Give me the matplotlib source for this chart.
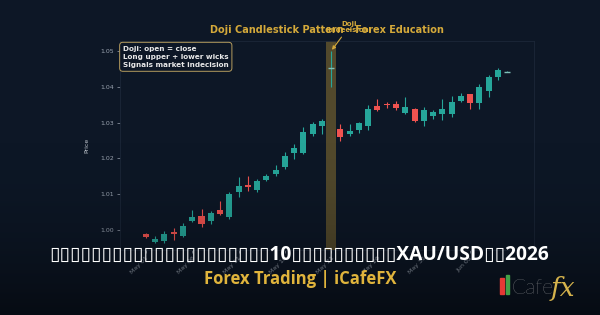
import matplotlib
matplotlib.use("Agg")
import matplotlib.pyplot as plt
from matplotlib.patches import Rectangle
import numpy as np
import pandas as pd

# --- data --------------------------------------------------------------
dates = pd.date_range("2024-05-01", periods=40, freq="D")
opens = [0.9989, 0.9968, 0.9970, 0.9994, 0.9984, 1.0024, 1.0040, 1.0025, 1.0056, 1.0037,
         1.0105, 1.0127, 1.0112, 1.0141, 1.0157, 1.0176, 1.0215, 1.0215, 1.0269, 1.0290,
         1.0452, 1.0283, 1.0267, 1.0278, 1.0290, 1.0346, 1.0351, 1.0351, 1.0328, 1.0339,
         1.0305, 1.0318, 1.0325, 1.0323, 1.0361, 1.0379, 1.0355, 1.0388, 1.0426, 1.0442]
closes = [0.9981, 0.9975, 0.9990, 0.9990, 1.0011, 1.0037, 1.0017, 1.0048, 1.0045, 1.0101,
          1.0124, 1.0121, 1.0136, 1.0152, 1.0168, 1.0208, 1.0230, 1.0274, 1.0297, 1.0305,
          1.0452, 1.0260, 1.0276, 1.0299, 1.0339, 1.0335, 1.0348, 1.0341, 1.0344, 1.0305,
          1.0335, 1.0329, 1.0337, 1.0358, 1.0374, 1.0355, 1.0400, 1.0426, 1.0447, 1.0442]
highs = [0.9993, 0.9984, 0.9998, 1.0006, 1.0020, 1.0056, 1.0059, 1.0054, 1.0082, 1.0105,
         1.0149, 1.0152, 1.0143, 1.0157, 1.0183, 1.0218, 1.0241, 1.0288, 1.0302, 1.0311,
         1.0500, 1.0295, 1.0297, 1.0302, 1.0349, 1.0365, 1.0358, 1.0360, 1.0372, 1.0342,
         1.0344, 1.0336, 1.0365, 1.0374, 1.0384, 1.0381, 1.0409, 1.0433, 1.0453, 1.0443]
lows = [0.9977, 0.9965, 0.9965, 0.9972, 0.9981, 1.0022, 1.0009, 1.0017, 1.0043, 1.0031,
        1.0093, 1.0110, 1.0105, 1.0138, 1.0152, 1.0171, 1.0199, 1.0213, 1.0264, 1.0269,
        1.0400, 1.0250, 1.0264, 1.0271, 1.0278, 1.0333, 1.0342, 1.0335, 1.0325, 1.0302,
        1.0290, 1.0311, 1.0308, 1.0315, 1.0358, 1.0339, 1.0337, 1.0371, 1.0419, 1.0441]
doji_idx = 20

title = "Doji Candlestick Pattern \u2013 Forex Education"
info_text = "Doji: open = close\nLong upper + lower wicks\nSignals market indecision"
banner = ("\u25af" * 21 + "10" + "\u25af" * 10 + "XAU/USD" + "\u25af" * 2 + "2026")
subtitle = "Forex Trading | iCafeFX"

BG = "#0d1726"
UP, DOWN = "#26a69a", "#ef5350"
GOLD = "#d4a93a"

fig = plt.figure(figsize=(6, 3.15), dpi=100, facecolor=BG)
ax = fig.add_axes([0.2, 0.206, 0.69, 0.664], facecolor=BG)

x = np.arange(len(dates))
o, c = np.array(opens), np.array(closes)
colors = [UP if cc >= oo else DOWN for oo, cc in zip(o, c)]

ax.vlines(x, lows, highs, colors=colors, lw=0.8, zorder=2)
flat = np.isclose(o, c)
ax.bar(x[~flat], (c - o)[~flat], bottom=o[~flat], width=0.65,
       color=np.array(colors)[~flat], zorder=3)
ax.hlines(c[flat], x[flat] - 0.33, x[flat] + 0.33, colors="#7fbfb8", lw=1.0, zorder=3)

ax.axvspan(doji_idx - 0.55, doji_idx + 0.55, color=GOLD, alpha=0.35, lw=0, zorder=1)
ax.annotate("Doji\n(Indecision)", xy=(doji_idx, highs[doji_idx]),
            xytext=(doji_idx + 1.9, highs[doji_idx] + 0.0066),
            ha="center", va="center", color=GOLD, fontsize=5, fontweight="bold",
            linespacing=0.95, annotation_clip=False,
            arrowprops=dict(arrowstyle="-|>", color=GOLD, lw=0.8, mutation_scale=5,
                            shrinkA=1, shrinkB=1))

ax.text(0.007, 0.978, info_text, transform=ax.transAxes, ha="left", va="top",
        color="#e8e8e8", fontsize=5.2, fontweight="bold", linespacing=1.45,
        bbox=dict(boxstyle="round,pad=0.45", facecolor=BG, edgecolor="#b59c5e", lw=0.7))

ax.set_xlim(-2.8, 41.9)
ax.set_ylim(0.9944, 1.0528)
ax.set_yticks([1.00, 1.01, 1.02, 1.03, 1.04, 1.05])
ax.set_yticklabels([f"{v:.2f}" for v in ax.get_yticks()])
ticks = x[::5]
ax.set_xticks(ticks)
ax.set_xticklabels([d.strftime("%b %d") for d in dates[::5]], rotation=45, ha="right",
                   rotation_mode="anchor")
ax.tick_params(colors="#9aa3b0", labelsize=4.5, length=2, width=0.5, pad=2)
ax.set_ylabel("Price", color="#c0c6ce", fontsize=4.5, labelpad=8)
ax.set_title(title, color=GOLD, fontsize=7.05, fontweight="bold", pad=6)
for s in ax.spines.values():
    s.set_color("#1c2738")
    s.set_linewidth(0.6)

# darkening toward the bottom, like the banner overlay
ov = fig.add_axes([0, 0, 1, 1], zorder=5)
ov.axis("off")
ramp = np.clip((np.linspace(1, 0, 315) - 0.4) / 0.6, 0, 1) ** 2 * 0.5
rgba = np.zeros((315, 1, 4))
rgba[:, 0, 3] = ramp
ov.imshow(rgba, aspect="auto", extent=[0, 1, 0, 1], origin="lower")
ov.set_xlim(0, 1)
ov.set_ylim(0, 1)

fig.text(0.498, 0.19, banner, ha="center", va="center", color="white",
         fontsize=13.8, fontweight="bold", family=["Open Sans", "DejaVu Sans"], zorder=10)
fig.text(0.5, 0.115, subtitle, ha="center", va="center", color="#e0b43c",
         fontsize=12, fontweight="bold", family=["Open Sans", "DejaVu Sans"], zorder=10)

# logo
fig.add_artist(Rectangle((0.834, 0.068), 0.0055, 0.05, color="#e53935", zorder=10,
                         transform=fig.transFigure))
fig.add_artist(Rectangle((0.843, 0.068), 0.0055, 0.06, color="#43a047", zorder=10,
                         transform=fig.transFigure))
fig.text(0.852, 0.066, "Cafe", ha="left", va="baseline", color="#b4b4b4",
         fontsize=15, family="Lato", fontweight="light", zorder=10)
fig.text(0.918, 0.06, "fx", ha="left", va="baseline", color="#d4b24c",
         fontsize=19, family="DejaVu Serif", style="italic", zorder=10)

fig.savefig("out.png", dpi=100, facecolor=BG)
